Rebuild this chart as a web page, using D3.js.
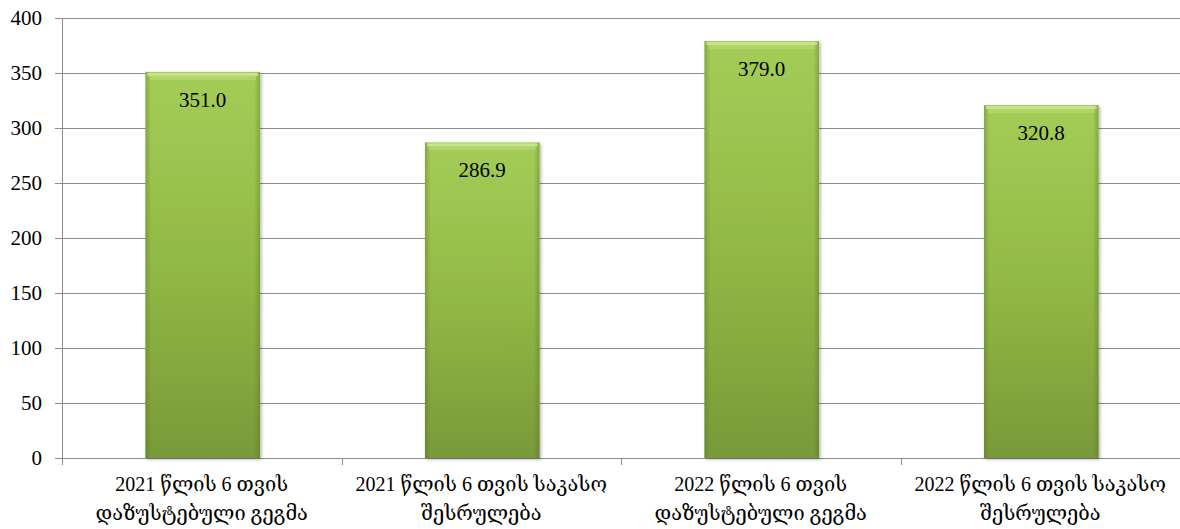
<!DOCTYPE html>
<html>
<head>
<meta charset="utf-8">
<script src="https://d3js.org/d3.v7.min.js"></script>
<style>
  body { margin: 0; background: #fff; }
  text { font-family: "Liberation Serif", "DejaVu Serif", serif; fill: #000; }
</style>
</head>
<body>
<div id="chart"></div>
<script>
// chart data
var categories = [
  "2021 წლის 6 თვის|დაზუსტებული გეგმა",
  "2021 წლის 6 თვის საკასო|შესრულება",
  "2022 წლის 6 თვის|დაზუსტებული გეგმა",
  "2022 წლის 6 თვის საკასო|შესრულება"
];
var values = [351.0, 286.9, 379.0, 320.8];
var yTicks = [0, 50, 100, 150, 200, 250, 300, 350, 400];

var W = 1180, H = 529;
var margin = { top: 18, right: 0, bottom: 71, left: 62 };
var width = W - margin.left - margin.right;
var height = H - margin.top - margin.bottom;

var svg = d3.select("#chart").append("svg")
  .attr("width", W).attr("height", H);

var defs = svg.append("defs");
var grad = defs.append("linearGradient").attr("id", "barGrad")
  .attr("x1", 0).attr("y1", 0).attr("x2", 0).attr("y2", 1);
grad.append("stop").attr("offset", "0%").attr("stop-color", "#a8d25b");
grad.append("stop").attr("offset", "50%").attr("stop-color", "#95bd47");
grad.append("stop").attr("offset", "100%").attr("stop-color", "#7b9c3a");

var side = defs.append("linearGradient").attr("id", "sideGrad")
  .attr("x1", 0).attr("y1", 0).attr("x2", 1).attr("y2", 0);
side.append("stop").attr("offset", "0%").attr("stop-color", "#4f6b1f").attr("stop-opacity", 0.4);
side.append("stop").attr("offset", "5%").attr("stop-color", "#4f6b1f").attr("stop-opacity", 0.05);
side.append("stop").attr("offset", "95%").attr("stop-color", "#4f6b1f").attr("stop-opacity", 0.05);
side.append("stop").attr("offset", "100%").attr("stop-color", "#4f6b1f").attr("stop-opacity", 0.4);

var shadow = defs.append("filter").attr("id", "shadow")
  .attr("x", "-10%").attr("y", "-5%").attr("width", "125%").attr("height", "115%");
shadow.append("feDropShadow").attr("dx", 1.5).attr("dy", 1.5).attr("stdDeviation", 1.5)
  .attr("flood-color", "#000").attr("flood-opacity", 0.3);

var g = svg.append("g").attr("transform", "translate(" + margin.left + "," + margin.top + ")");

var x = d3.scaleBand().domain(categories).range([0, width]).padding(0);
var y = d3.scaleLinear().domain([0, 400]).range([height, 0]);

// gridlines
g.append("g").selectAll("line").data(yTicks).enter().append("line")
  .attr("x1", -7).attr("x2", width)
  .attr("y1", function(d) { return Math.round(y(d)) + 0.5; })
  .attr("y2", function(d) { return Math.round(y(d)) + 0.5; })
  .attr("stroke", "#8c8c8c").attr("stroke-width", 1);

// y axis
var yAxis = g.append("g").call(d3.axisLeft(y).tickValues(yTicks).tickSize(7).tickPadding(13));
yAxis.select(".domain").attr("stroke", "#8c8c8c");
yAxis.selectAll(".tick line").attr("stroke", "#8c8c8c");
yAxis.selectAll("text").style("font-size", "21px").attr("dy", "0.33em");

// x axis line and tick marks at band edges
g.append("line").attr("x1", 0).attr("x2", width)
  .attr("y1", height + 0.5).attr("y2", height + 0.5).attr("stroke", "#8c8c8c");
var edges = categories.map(function(c) { return x(c); });
g.append("g").selectAll("line").data(edges).enter().append("line")
  .attr("x1", function(d) { return Math.round(d) + 0.5; })
  .attr("x2", function(d) { return Math.round(d) + 0.5; })
  .attr("y1", height).attr("y2", height + 7)
  .attr("stroke", "#8c8c8c");

// bars
var barW = x.bandwidth() * 0.41;
var bars = g.append("g").selectAll("g").data(values).enter().append("g")
  .attr("transform", function(d, i) {
    return "translate(" + (x(categories[i]) + x.bandwidth() / 2 - barW / 2 + 1) + ",0)";
  });
bars.append("rect")
  .attr("y", function(d) { return y(d); })
  .attr("width", barW)
  .attr("height", function(d) { return height - y(d); })
  .attr("fill", "url(#barGrad)")
  .attr("filter", "url(#shadow)");
bars.append("rect")
  .attr("y", function(d) { return y(d); })
  .attr("width", barW)
  .attr("height", function(d) { return height - y(d); })
  .attr("fill", "url(#sideGrad)");
// top bevel highlight
bars.append("rect")
  .attr("x", 2)
  .attr("y", function(d) { return y(d) + 1; })
  .attr("width", barW - 4)
  .attr("height", 3)
  .attr("fill", "#d2ea9c").attr("opacity", 0.8);
bars.append("rect")
  .attr("x", 4)
  .attr("y", function(d) { return y(d) + 4; })
  .attr("width", barW - 8)
  .attr("height", 4)
  .attr("fill", "#b7dc72").attr("opacity", 0.6);

// value labels
bars.append("text")
  .attr("x", barW / 2)
  .attr("y", function(d) { return y(d) + 35; })
  .attr("text-anchor", "middle")
  .style("font-size", "21px")
  .text(function(d) { return d.toFixed(1); });

// category labels
var labels = g.append("g").selectAll("text").data(categories).enter().append("text")
  .attr("text-anchor", "middle")
  .attr("transform", function(d) { return "translate(" + (x(d) + x.bandwidth() / 2) + "," + (height + 33) + ")"; })
  .style("font-size", "20px");
labels.each(function(d) {
  var parts = d.split("|");
  var t = d3.select(this);
  parts.forEach(function(p, i) {
    t.append("tspan").attr("x", 0).attr("dy", i === 0 ? 0 : 29).text(p);
  });
});
</script>
</body>
</html>
